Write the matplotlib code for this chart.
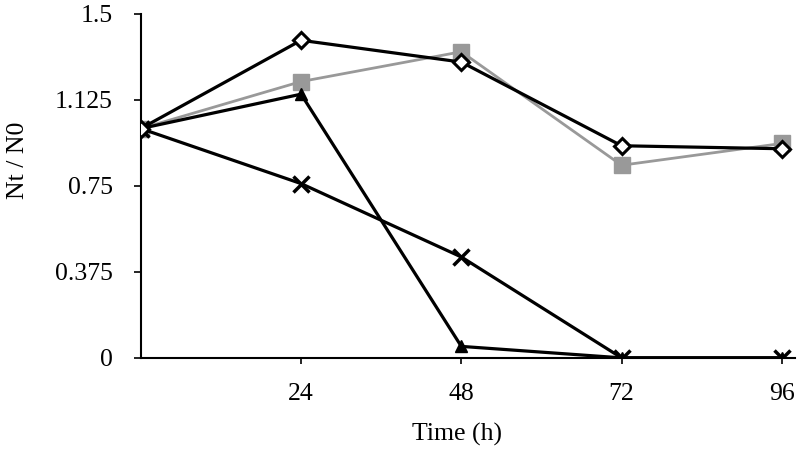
import matplotlib
matplotlib.use("Agg")
import matplotlib.pyplot as plt

# data
time_h = [0, 24, 48, 72, 96]
diamond = [1.0, 1.385, 1.29, 0.925, 0.912]
square = [1.0, 1.205, 1.335, 0.84, 0.935]
triangle = [1.0, 1.15, 0.05, 0.0, 0.0]
cross = [1.0, 0.76, 0.44, 0.0, 0.0]

x_ticks = [24, 48, 72, 96]
y_ticks = [0, 0.375, 0.75, 1.125, 1.5]
y_labels = ["0", "0.375", "0.75", "1.125", "1.5"]

plt.rcParams['font.family'] = ['Liberation Serif', 'DejaVu Serif']

fig = plt.figure(figsize=(8, 4.49), dpi=100)
ax = fig.add_axes([0.176, 0.203, 0.818, 0.766])

ax.plot(time_h, square, color="#999999", lw=2, marker="s", ms=11.5,
        mfc="#999999", mec="#999999", zorder=2)
ax.plot(time_h, triangle, color="black", lw=2.3, marker="^", ms=8,
        mfc="black", mec="black", zorder=3)
ax.plot(time_h, cross, color="black", lw=2.3, marker="x", ms=12,
        mew=2.5, zorder=3)
ax.plot(time_h, diamond, color="black", lw=2.3, marker="D", ms=8,
        mfc="white", mec="black", mew=2.2, zorder=4)

ax.set_xlim(0, 98)
ax.set_ylim(0, 1.5)
ax.set_xticks(x_ticks)
ax.set_yticks(y_ticks)
ax.set_yticklabels(y_labels)

for side in ["top", "right"]:
    ax.spines[side].set_visible(False)
for side in ["left", "bottom"]:
    ax.spines[side].set_linewidth(1.5)

ax.tick_params(axis="y", direction="out", length=5, width=1.2, labelsize=18.5, pad=15)
ax.tick_params(axis="x", direction="out", length=4, width=1.2, labelsize=18.5, pad=14)

ax.set_xlabel("Time (h)", fontsize=18.5)
ax.set_ylabel("Nt / N0", fontsize=18.5)
ax.xaxis.set_label_coords(0.483, -0.19)
ax.yaxis.set_label_coords(-0.171, 0.575)

fig.savefig("out.png", dpi=100)
